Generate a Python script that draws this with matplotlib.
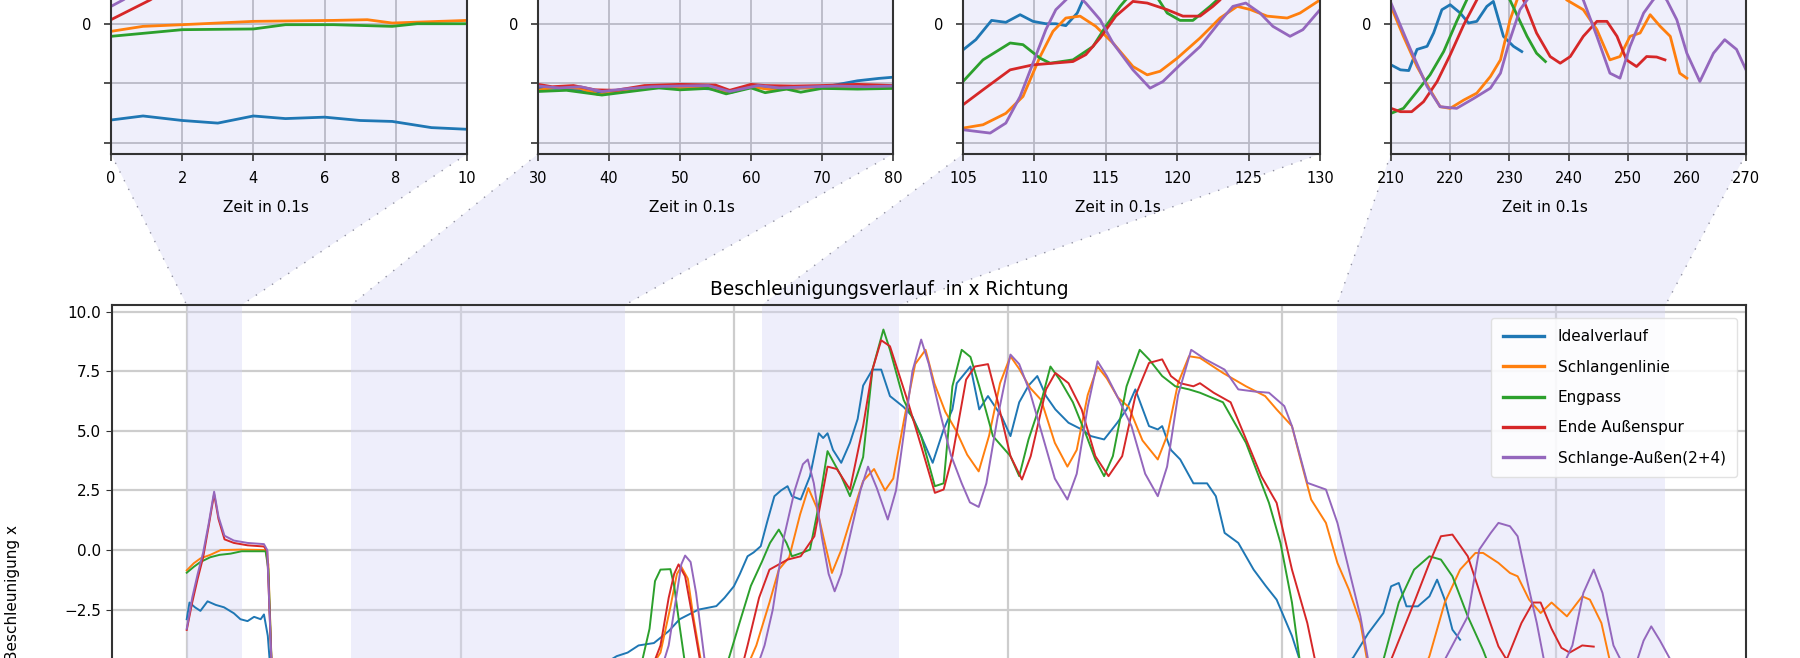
import matplotlib
matplotlib.use("Agg")
import matplotlib.pyplot as plt
from matplotlib.patches import Polygon
from matplotlib.lines import Line2D

# ---------------- data ----------------
series_names = ["Idealverlauf", "Schlangenlinie", "Engpass", "Ende Außenspur", "Schlange-Außen(2+4)"]
series_colors = ["#1f77b4", "#ff7f0e", "#2ca02c", "#d62728", "#9467bd"]

main_ideal = [(0,-2.9),(0.5,-2.2),(1.5,-2.4),(2.5,-2.55),(3.8,-2.15),(5.3,-2.3),(6.8,-2.4),(8.6,-2.65),(9.8,-2.9),(11.1,-2.98),(12.3,-2.8),(13.5,-2.9),(14.1,-2.7),(14.8,-3.6),(15.6,-6.0),(22,-6.6),(35,-6.2),(50,-6.0),(65,-5.6),(76,-4.8),(78.5,-4.45),(80.5,-4.3),(82.5,-4.0),(85.3,-3.9),(88,-3.4),(90,-2.9),(93.4,-2.5),(96.7,-2.35),(98.2,-2.0),(99.9,-1.52),(101,-1.0),(102.4,-0.26),(103.5,-0.1),(104.8,0.16),(106,1.2),(107.3,2.26),(108.5,2.5),(109.7,2.68),(110.5,2.26),(112.1,2.12),(113.8,3.1),(115.4,4.9),(116.2,4.7),(117,4.9),(118,4.2),(119.5,3.66),(121.1,4.5),(122.5,5.5),(123.5,6.9),(125.2,7.57),(126.8,7.57),(128.4,6.46),(130.9,6.0),(132.5,5.6),(134.1,4.78),(136.2,3.66),(138.2,5.06),(139.8,5.9),(140.6,7.0),(143.1,7.7),(144.7,5.9),(146.3,6.46),(148.8,5.6),(150.4,4.78),(152,6.2),(153.7,6.9),(155.3,7.3),(156.9,6.46),(158.6,5.9),(161,5.34),(163.4,5.06),(165.1,4.78),(167.5,4.64),(169.9,5.34),(171.6,5.9),(173.2,6.74),(175.7,5.2),(177.3,5.06),(178.1,5.2),(179.7,4.2),(181.4,3.8),(183.8,2.8),(186.3,2.8),(187.9,2.26),(189.5,0.72),(192,0.3),(194.8,-0.82),(197,-1.5),(199,-2.08),(201.8,-3.6),(203.2,-4.6),(205,-5.5),(208,-5.8),(211,-5.0),(213,-4.5),(215.7,-3.5),(218.5,-2.64),(219.9,-1.52),(221.3,-1.38),(222.7,-2.36),(224.8,-2.36),(226.9,-1.94),(228.3,-1.24),(229.7,-2.08),(231.1,-3.34),(232.5,-3.76)]

main_schlange = [(0,-0.85),(1.3,-0.55),(2.5,-0.35),(4.3,-0.2),(6.2,0.0),(10,0.02),(14.4,0.0),(14.9,-0.6),(15.6,-5.5),(22,-6.3),(35,-6.0),(50,-5.8),(65,-5.7),(80,-5.6),(84,-5.2),(86.5,-4.3),(88.3,-2.4),(89.5,-1.0),(90.3,-0.7),(91.5,-1.2),(92.5,-2.8),(94,-4.8),(96,-6.0),(100,-5.9),(102.5,-4.8),(104,-4.0),(106.4,-2.2),(108.1,-0.82),(110,-0.3),(112,1.5),(113.5,2.6),(115,1.8),(116.5,0.3),(117.8,-0.96),(119.5,0.0),(121.5,1.5),(123.5,2.9),(125.5,3.4),(127.5,2.5),(129,3.0),(131,5.5),(133,7.8),(134.9,8.4),(136.5,7.0),(138.5,5.8),(140.5,5.0),(142.5,4.0),(144.6,3.3),(146.5,4.8),(148.5,7.0),(150.4,8.13),(152,7.6),(154,6.8),(156,6.3),(158.5,4.5),(160.8,3.5),(162.5,4.2),(164.5,6.5),(166.3,7.7),(168,7.2),(170,6.4),(172,6.0),(174.5,4.6),(177.3,3.8),(179,4.8),(181,7.0),(183,8.13),(185,8.06),(189.2,7.43),(193.4,6.87),(196.9,6.46),(199,5.9),(201.8,5.2),(203.2,3.94),(205.3,2.12),(208,1.14),(210.1,-0.54),(212.2,-1.66),(214.3,-3.06),(215.5,-4.6),(218,-6.0),(224,-6.0),(226.9,-4.45),(229.7,-2.2),(232.5,-0.82),(235.3,-0.12),(236.7,-0.12),(239.5,-0.54),(241.6,-0.96),(243,-1.1),(245.1,-2.08),(247.2,-2.64),(249.2,-2.2),(252,-2.78),(254.8,-1.94),(256.2,-2.08),(258.3,-3.06),(259.7,-4.5),(260.3,-5.0)]

main_engpass = [(0,-0.95),(1.3,-0.7),(2.5,-0.5),(4.3,-0.3),(6,-0.2),(8,-0.15),(10,-0.05),(14.4,-0.05),(14.9,-0.8),(15.6,-5.5),(22,-6.2),(35,-6.1),(50,-5.9),(65,-5.7),(80,-5.5),(83,-4.8),(84.5,-3.3),(85.5,-1.3),(86.5,-0.82),(88.3,-0.8),(89,-1.5),(90,-3.2),(91,-4.8),(94,-6.0),(97.5,-5.6),(99.1,-4.45),(101,-3.0),(103,-1.5),(105,-0.5),(106.5,0.3),(108.1,0.86),(109.5,0.3),(110.5,-0.26),(112.5,-0.1),(113.8,0.02),(115.5,2.0),(117,4.15),(119.5,3.1),(121.1,2.26),(123.5,3.9),(125.2,7.57),(127.2,9.25),(128.4,8.4),(130.9,6.3),(134.1,4.78),(136.6,2.68),(138.2,2.8),(139.8,6.87),(141.5,8.4),(143.1,8.1),(144.7,6.87),(147.2,4.78),(150.4,3.94),(152,3.1),(153.7,4.64),(156.1,6.3),(157.7,7.7),(159.4,7.15),(161.8,6.2),(164.3,4.78),(165.9,3.8),(167.5,3.1),(169.1,3.94),(171.6,6.87),(174,8.4),(175.7,8.0),(178.1,7.3),(180.5,6.87),(183,6.74),(185,6.6),(189.2,6.2),(193.4,4.5),(197.6,1.98),(199.7,0.3),(201.8,-2.2),(203.2,-4.6),(206,-6.0),(214,-6.0),(218.5,-4.6),(221.3,-2.2),(224.1,-0.82),(226.9,-0.26),(229,-0.4),(231.1,-1.1),(233.9,-2.78),(236.7,-4.2),(237.2,-4.5)]

main_ende = [(0,-3.35),(1,-2.2),(2,-1.2),(3,-0.3),(4,1.0),(5,2.35),(5.8,1.3),(6.9,0.45),(8.6,0.3),(11.1,0.2),(14.1,0.15),(14.7,-0.05),(15.6,-5.5),(22,-6.2),(35,-6.0),(50,-5.9),(65,-5.8),(80,-5.6),(84.5,-5.2),(86.5,-4.0),(88,-2.0),(89,-1.0),(89.8,-0.6),(91,-1.1),(92.5,-3.0),(94,-5.0),(97,-6.0),(100.5,-5.7),(102.4,-4.0),(104.5,-2.0),(106.4,-0.82),(109.7,-0.4),(112.1,-0.26),(114.6,0.58),(117,3.5),(118.7,3.4),(121.1,2.54),(123.5,5.2),(125.2,7.57),(126.8,8.8),(128.4,8.55),(131.7,6.2),(134.1,4.36),(136.6,2.4),(138.2,2.54),(139.8,3.94),(142.3,7.15),(143.9,7.7),(146.3,7.8),(148,6.3),(150.4,3.94),(152.5,2.96),(154.1,3.94),(156.9,6.74),(158.6,7.43),(161,7.0),(163.4,5.9),(165.9,3.94),(168.3,3.1),(170.8,3.94),(173.2,6.46),(175.7,7.85),(178.1,8.0),(179.7,7.3),(181.4,7.0),(183.8,6.87),(185,7.0),(187.5,6.6),(190.6,6.2),(193.5,4.6),(196.2,3.1),(199,1.98),(201.8,-0.82),(204.6,-3.06),(206,-4.6),(209,-6.0),(217,-6.0),(219.9,-4.6),(224.1,-2.2),(226.9,-0.54),(229,0.58),(231.1,0.65),(233.9,-0.26),(236.7,-2.2),(239.5,-4.04),(241,-4.6),(243.7,-3.06),(245.8,-2.2),(247.2,-2.2),(249.2,-3.3),(251,-4.1),(252.5,-4.3),(254.8,-4.0),(256.9,-4.05)]

main_aussen = [(0,-3.3),(1,-2.0),(2,-1.0),(3,-0.1),(4,1.1),(5,2.45),(5.8,1.4),(6.9,0.6),(8.6,0.4),(11.1,0.3),(14.1,0.25),(14.7,0.0),(15.6,-5.5),(22,-6.4),(35,-6.1),(50,-6.0),(65,-5.8),(80,-5.7),(86,-5.5),(88,-4.0),(89.5,-1.8),(90.3,-0.6),(91,-0.23),(92,-0.5),(93,-1.8),(94.5,-4.5),(96,-6.0),(101,-5.9),(104,-5.0),(105.5,-4.0),(107,-2.5),(109,0.5),(111,2.5),(112.5,3.6),(113.4,3.8),(114.5,2.8),(116,0.5),(117.2,-1.0),(118.3,-1.73),(119.5,-1.0),(121,0.5),(123,2.5),(124.4,3.5),(126,2.6),(128,1.28),(129.5,2.5),(131,5.0),(132.5,7.5),(134.1,8.83),(135.5,7.8),(137.5,5.8),(139.5,4.0),(141.5,2.8),(143,2.0),(144.6,1.81),(146,2.8),(148,5.5),(150.4,8.2),(152,7.8),(154,6.6),(156,5.0),(158.5,3.0),(160.8,2.12),(162.5,3.2),(164.5,6.0),(166.3,7.92),(168,7.3),(170,6.4),(172.5,5.2),(175,3.2),(177.3,2.26),(179,3.5),(181,6.5),(183.4,8.4),(186,8.0),(189.5,7.57),(192,6.74),(195,6.65),(197.6,6.6),(200.4,6.04),(201.8,5.2),(204.6,2.82),(208,2.54),(210.1,1.14),(212.2,-0.82),(214.3,-2.78),(215.7,-4.6),(218,-6.0),(227,-6.0),(229.7,-4.6),(233.9,-2.78),(236,0.02),(238.1,0.72),(239.5,1.14),(241.6,1.0),(243,0.58),(245.1,-1.66),(246.5,-3.06),(247.8,-4.6),(250,-5.5),(253,-4.0),(255,-1.8),(256.9,-0.82),(258.5,-1.8),(260.5,-4.0),(261.8,-4.6),(264,-5.2),(266,-3.8),(267.4,-3.2),(269,-3.8),(270.9,-4.6)]

# zoom 1 (0..10)
z1_ideal = [(0,-4.05),(0.9,-3.88),(2,-4.07),(3,-4.18),(4,-3.88),(4.9,-3.99),(6,-3.93),(7,-4.07),(7.9,-4.11),(9,-4.37),(10,-4.44)]
z1_schlange = [(0,-0.32),(0.9,-0.11),(2,-0.04),(4,0.1),(6.25,0.14),(7.2,0.17),(7.9,0.03),(10,0.14)]
z1_engpass = [(0,-0.53),(2,-0.25),(4,-0.22),(4.9,-0.04),(6.25,-0.04),(7.9,-0.11),(8.6,0.0),(10,0.0)]
z1_ende = [(0,0.17),(1.1,1.0),(2,1.9),(3,2.8),(4,3.5),(6,3.4),(8,3.3),(10,3.2)]
z1_aussen = [(0,0.73),(0.35,1.01),(1,1.7),(2,2.8),(3,3.8),(4,4.0),(6,3.6),(8,3.5),(10,3.4)]

# zoom 2 (30..80)
z2_ideal = [(30,-2.71),(34,-2.72),(38,-2.9),(40,-2.85),(45,-2.7),(50,-2.68),(55,-2.75),(57,-2.9),(60,-2.66),(65,-2.72),(70,-2.68),(75,-2.4),(78,-2.3),(80,-2.25)]
z2_schlange = [(30,-2.8),(33,-2.65),(36,-2.72),(38.5,-2.98),(42,-2.85),(46,-2.62),(50,-2.7),(54,-2.62),(56.5,-2.88),(60,-2.65),(63,-2.78),(67,-2.7),(72,-2.72),(76,-2.68),(80,-2.7)]
z2_engpass = [(30,-2.85),(34,-2.8),(39,-3.0),(43,-2.85),(47,-2.7),(50,-2.78),(54,-2.72),(56.5,-2.95),(60,-2.7),(62,-2.9),(65,-2.75),(67,-2.88),(70,-2.72),(75,-2.75),(80,-2.72)]
z2_ende = [(30,-2.55),(32,-2.65),(35,-2.6),(38,-2.78),(41,-2.8),(45,-2.6),(50,-2.55),(55,-2.58),(57,-2.8),(60,-2.55),(62,-2.6),(66,-2.62),(70,-2.6),(75,-2.55),(80,-2.6)]
z2_aussen = [(30,-2.62),(33,-2.7),(36,-2.65),(39,-2.85),(42,-2.75),(46,-2.65),(50,-2.62),(54,-2.6),(57,-2.85),(61,-2.6),(64,-2.7),(68,-2.66),(72,-2.62),(76,-2.65),(80,-2.62)]

# zoom 3 (105..130)
z3_ideal = [(105,-1.1),(105.9,-0.67),(107,0.14),(108,0.06),(109,0.38),(109.9,0.1),(110.8,0.0),(111.5,0.0),(112.2,-0.08),(113,0.45),(113.4,1.0),(114,2.0),(117,3.0),(120,3.0),(125,4.0),(130,4.5)]
z3_schlange = [(105,-4.39),(106.4,-4.25),(108,-3.77),(109.2,-3.06),(110.4,-1.38),(111.3,-0.32),(112.2,0.24),(113.2,0.32),(114.3,-0.11),(115.5,-0.81),(116.9,-1.8),(117.9,-2.15),(118.8,-2.0),(120,-1.45),(121.6,-0.6),(123,0.24),(124.2,0.73),(125.1,0.6),(126.3,0.32),(127.7,0.24),(128.6,0.45),(130,1.0)]
z3_engpass = [(105,-2.43),(106.4,-1.52),(108.3,-0.81),(109.2,-0.88),(110.4,-1.45),(111.1,-1.66),(112.7,-1.52),(114.1,-0.96),(115,-0.11),(116,0.73),(116.4,1.01),(117.5,1.6),(118.5,1.2),(119.3,0.45),(120.2,0.14),(121.1,0.14),(122.3,0.73),(122.8,1.0),(124,2.0),(127,2.5),(130,2.0)]
z3_ende = [(105,-3.41),(106.4,-2.78),(108.3,-1.94),(109.9,-1.73),(111.3,-1.66),(112.7,-1.59),(113.6,-1.3),(114.6,-0.6),(115.7,0.32),(116.9,0.94),(117.9,0.87),(119.3,0.59),(120.4,0.32),(121.6,0.32),(122.5,0.73),(123,1.0),(124,2.0),(127,2.5),(130,2.2)]
z3_aussen = [(105,-4.46),(106.9,-4.6),(108,-4.18),(109,-3.06),(109.9,-1.66),(110.8,-0.25),(111.5,0.59),(112.2,1.0),(112.7,1.3),(113.2,1.1),(113.6,0.87),(114.6,0.17),(115.5,-0.81),(116.9,-1.94),(118.1,-2.71),(119,-2.43),(120.2,-1.73),(121.6,-0.96),(123,0.1),(123.9,0.73),(124.8,0.87),(125.8,0.45),(126.7,-0.11),(127.9,-0.53),(128.8,-0.25),(129.8,0.45),(130,0.59)]

# zoom 4 (210..270)
z4_ideal = [(210,-1.73),(211.6,-1.94),(213,-1.97),(214.4,-1.08),(216.1,-0.95),(217.2,-0.39),(218.6,0.59),(220,0.8),(221.7,0.45),(223.1,0.03),(224.5,0.1),(226.2,0.73),(227.3,0.94),(229,-0.53),(230.7,-0.95),(232.1,-1.17)]
z4_schlange = [(210,0.73),(212.1,-0.53),(214.4,-1.8),(216.6,-2.78),(218.3,-3.49),(220,-3.56),(222.3,-3.21),(224.5,-2.92),(226.8,-2.22),(228.5,-1.52),(230.1,0.14),(231.3,1.0),(233,1.8),(236,2.2),(239.7,1.0),(242.5,0.59),(244.8,-0.25),(247,-1.52),(248.7,-1.38),(250.4,-0.53),(252.1,-0.39),(253.8,0.38),(255.5,-0.11),(257.2,-0.53),(258.8,-2.08),(260,-2.29)]
z4_engpass = [(210,-3.77),(212.1,-3.56),(214.4,-2.85),(216.6,-2.15),(218.9,-1.17),(221.1,0.1),(222.8,1.0),(224.5,1.8),(226.5,2.0),(228.5,1.6),(230.1,1.0),(233,-0.53),(234.6,-1.24),(236.1,-1.59)]
z4_ende = [(210,-3.56),(211.6,-3.7),(213.5,-3.7),(215.5,-3.28),(217.8,-2.43),(220,-1.31),(222.3,-0.04),(224.5,1.0),(226.5,1.8),(228.5,2.0),(230.5,1.7),(232.4,1.0),(234.6,-0.39),(236.9,-1.38),(238.6,-1.66),(240.3,-1.38),(242.5,-0.53),(244.8,0.1),(246.5,0.1),(248.2,-0.53),(249.8,-1.52),(251.5,-1.8),(253.2,-1.38),(254.9,-1.4),(256.3,-1.52)]
z4_aussen = [(210,0.87),(213.3,-1.08),(216.1,-2.64),(218.3,-3.49),(221.1,-3.56),(224,-3.14),(226.8,-2.71),(228.5,-2.08),(230.1,-0.67),(231.8,0.59),(233,1.0),(236,2.0),(240,2.0),(242.5,1.0),(244.8,-0.53),(247,-2.08),(248.7,-2.29),(250.4,-0.95),(252.7,0.45),(254.3,1.0),(255.5,1.3),(256.6,1.0),(258.3,0.17),(260,-1.24),(262.2,-2.43),(264.5,-1.24),(266.4,-0.67),(268.4,-1.08),(270,-1.94)]

main_series = [main_ideal, main_schlange, main_engpass, main_ende, main_aussen]
zoom_series = [
    [z1_ideal, z1_schlange, z1_engpass, z1_ende, z1_aussen],
    [z2_ideal, z2_schlange, z2_engpass, z2_ende, z2_aussen],
    [z3_ideal, z3_schlange, z3_engpass, z3_ende, z3_aussen],
    [z4_ideal, z4_schlange, z4_engpass, z4_ende, z4_aussen],
]
zoom_ranges = [(0, 10), (30, 80), (105, 130), (210, 270)]
zoom_xticks = [[0, 2, 4, 6, 8, 10], [30, 40, 50, 60, 70, 80],
               [105, 110, 115, 120, 125, 130], [210, 220, 230, 240, 250, 260, 270]]
zoom_yticks = [-5, -2.5, 0]
zoom_yticklabels = ["", "", "0"]
main_yticks = [-2.5, 0, 2.5, 5, 7.5, 10]
main_xticks = [0, 50, 100, 150, 200, 250]

title = "Beschleunigungsverlauf  in x Richtung"
xlabel = "Zeit in 0.1s"
ylabel = "Beschleunigung x"

# ---------------- layout ----------------
W, H = 1800, 658
plt.rcParams["font.family"] = ["DejaVu Sans"]
fig = plt.figure(figsize=(W / 100, H / 100), dpi=100, facecolor="white")

def rect(l, r, t, b):
    return [l / W, 1 - b / H, (r - l) / W, (b - t) / H]

shade = "#efeffb"
dark = "#333333"

ytop, ybot = 10.28, -13.9
ppu = 23.84  # pixels per y unit in the main panel
main_top = 305
main_bottom = main_top + (ytop - ybot) * ppu

ax = fig.add_axes(rect(111.7, 1746, main_top, main_bottom))
ax.set_xlim(-13.7, 284.7)
ax.set_ylim(ybot, ytop)
ax.set_facecolor("white")
ax.set_axisbelow(True)
ax.grid(True, color="#cdcdcd", lw=1.6)
for (a, b) in zoom_ranges:
    ax.axvspan(a, b, facecolor="#d5d5f5", alpha=0.4, edgecolor="none", zorder=1)
for s, name, c in zip(main_series, series_names, series_colors):
    ax.plot([p[0] for p in s], [p[1] for p in s], color=c, lw=1.4, label=name, zorder=3)
ax.set_yticks(main_yticks)
ax.set_xticks(main_xticks)
ax.tick_params(axis="y", labelsize=11, length=4, color=dark, pad=3.5)
ax.tick_params(axis="x", length=4, color=dark, labelbottom=False)
for sp in ax.spines.values():
    sp.set_color(dark)
    sp.set_linewidth(1.5)
ax.set_title(title, fontsize=13.4, x=0.4756, pad=7)
ax.set_ylabel(ylabel, fontsize=11)
ax.yaxis.set_label_coords(-0.056, 0.5)
main_h = main_bottom - main_top
leg = ax.legend(loc="upper right", bbox_to_anchor=(1 - 9 / 1634.3, 1 - 13 / main_h), borderaxespad=0,
                fontsize=11, handlelength=2.7, handletextpad=0.9, labelspacing=1.0,
                framealpha=0.85, edgecolor="#dddddd", fancybox=True, borderpad=0.75)
for h in leg.get_lines():
    h.set_linewidth(2.4)

inset_px = [(111, 467), (538, 893), (963, 1320), (1391, 1746)]
zaxes = []
for (l, r), (a, b), ticks, group in zip(inset_px, zoom_ranges, zoom_xticks, zoom_series):
    z = fig.add_axes(rect(l, r, -107, 154))
    z.set_facecolor(shade)
    z.set_axisbelow(True)
    z.grid(True, color="#b9b9c6", lw=1.3)
    for s, c in zip(group, series_colors):
        z.plot([p[0] for p in s], [p[1] for p in s], color=c, lw=2.0)
    z.set_xlim(a, b)
    z.set_ylim(-5.48, 5.5)
    z.set_xticks(ticks)
    z.set_yticks(zoom_yticks)
    z.set_yticklabels(zoom_yticklabels)
    z.tick_params(axis="both", labelsize=10.5, length=5, color=dark, width=1.2)
    z.tick_params(axis="x", pad=7)
    z.tick_params(axis="y", pad=9)
    for sp in z.spines.values():
        sp.set_color(dark)
        sp.set_linewidth(1.5)
    z.set_xlabel(xlabel, fontsize=11)
    z.xaxis.set_label_coords(0.435, -0.176)
    zaxes.append(z)

# connector shapes between zoom panels and the shaded bands
inv = fig.transFigure.inverted()
for z, (a, b) in zip(zaxes, zoom_ranges):
    p1 = inv.transform(z.transAxes.transform((0, 0)))
    p2 = inv.transform(z.transAxes.transform((1, 0)))
    p3 = inv.transform(ax.transData.transform((b, ytop)))
    p4 = inv.transform(ax.transData.transform((a, ytop)))
    fig.add_artist(Polygon([p1, p2, p3, p4], closed=True, transform=fig.transFigure,
                           facecolor=shade, edgecolor="none", zorder=-5))
    for s, e in [(p1, p4), (p2, p3)]:
        fig.add_artist(Line2D([s[0], e[0]], [s[1], e[1]], transform=fig.transFigure,
                              color="#8f8f9f", lw=1.0, ls=(0, (1, 6)), zorder=-4))

fig.savefig("out.png", dpi=100, facecolor="white")
